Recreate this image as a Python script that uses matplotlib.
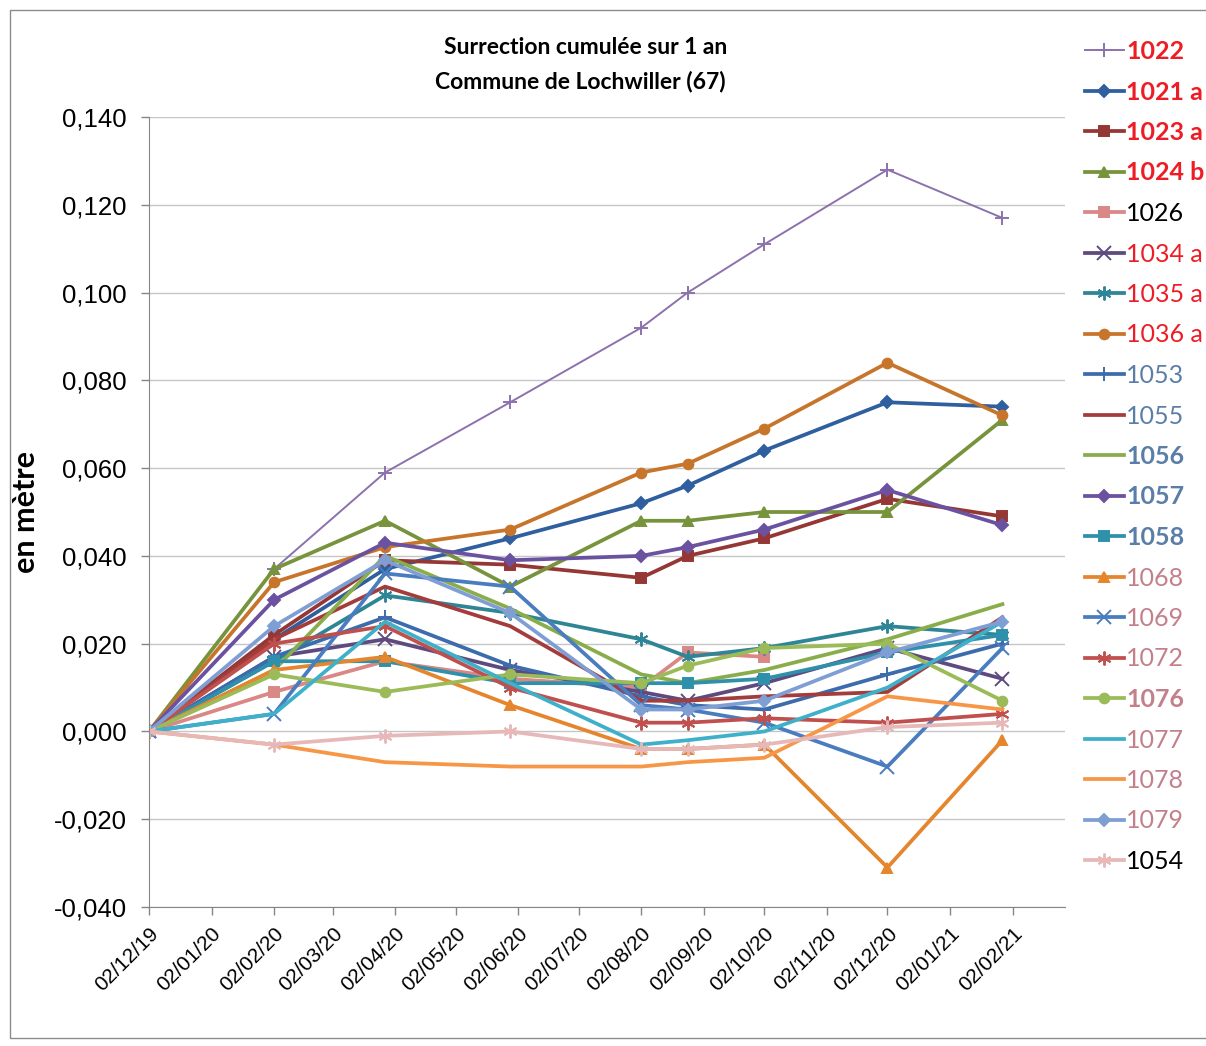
import numpy as np
import matplotlib
matplotlib.use("Agg")
import matplotlib.pyplot as plt
import matplotlib.dates as mdates
from matplotlib.patches import Rectangle
import datetime as dt

# survey dates
dates = [dt.date(2019, 12, 2), dt.date(2020, 2, 2), dt.date(2020, 3, 28),
         dt.date(2020, 5, 29), dt.date(2020, 8, 2), dt.date(2020, 8, 25),
         dt.date(2020, 10, 2), dt.date(2020, 12, 2), dt.date(2021, 1, 28)]

nan = np.nan
# cumulative uplift per benchmark (m)
s1022 = [0, 0.037, 0.059, 0.075, 0.092, 0.100, 0.111, 0.128, 0.117]
s1021a = [0, 0.021, 0.037, 0.044, 0.052, 0.056, 0.064, 0.075, 0.074]
s1023a = [0, 0.022, 0.039, 0.038, 0.035, 0.040, 0.044, 0.053, 0.049]
s1024b = [0, 0.037, 0.048, 0.033, 0.048, 0.048, 0.050, 0.050, 0.071]
s1026 = [0, 0.009, 0.016, 0.012, 0.010, 0.018, 0.017, nan, nan]
s1034a = [0, 0.017, 0.021, 0.014, 0.009, 0.007, 0.011, 0.019, 0.012]
s1035a = [0, 0.016, 0.031, 0.027, 0.021, 0.017, 0.019, 0.024, 0.022]
s1036a = [0, 0.034, 0.042, 0.046, 0.059, 0.061, 0.069, 0.084, 0.072]
s1053 = [0, 0.017, 0.026, 0.015, 0.008, 0.006, 0.005, 0.013, 0.020]
s1055 = [0, 0.021, 0.033, 0.024, 0.007, 0.007, 0.008, 0.009, 0.026]
s1056 = [0, 0.014, 0.040, 0.028, 0.013, 0.011, 0.014, 0.021, 0.029]
s1057 = [0, 0.030, 0.043, 0.039, 0.040, 0.042, 0.046, 0.055, 0.047]
s1058 = [0, 0.016, 0.016, 0.011, 0.011, 0.011, 0.012, 0.018, 0.022]
s1068 = [0, 0.014, 0.017, 0.006, -0.004, -0.004, -0.003, -0.031, -0.002]
s1069 = [0, 0.004, 0.036, 0.033, 0.006, 0.005, 0.002, -0.008, 0.019]
s1072 = [0, 0.020, 0.024, 0.010, 0.002, 0.002, 0.003, 0.002, 0.004]
s1076 = [0, 0.013, 0.009, 0.013, 0.011, 0.015, 0.019, 0.020, 0.007]
s1077 = [0, 0.004, 0.025, 0.011, -0.003, -0.002, 0.000, 0.010, 0.025]
s1078 = [0, -0.003, -0.007, -0.008, -0.008, -0.007, -0.006, 0.008, 0.005]
s1079 = [0, 0.024, 0.039, 0.027, 0.005, 0.005, 0.007, 0.018, 0.025]
s1054 = [0, -0.003, -0.001, 0.000, -0.004, -0.004, -0.003, 0.001, 0.002]

RED = "#ee1c25"
STEEL = "#5a7ea8"
ROSE = "#c4808a"
# label, values, line colour, marker, line width, label colour, bold
series = [
    ("1022", s1022, "#8c72ad", "+", 1.4, RED, True),
    ("1021 a", s1021a, "#2f5f9e", "D", 2.7, RED, True),
    ("1023 a", s1023a, "#953735", "s", 2.7, RED, True),
    ("1024 b", s1024b, "#77933c", "^", 2.7, RED, True),
    ("1026", s1026, "#d98886", "s", 2.7, "black", False),
    ("1034 a", s1034a, "#5f4a80", "x", 2.7, RED, False),
    ("1035 a", s1035a, "#2e8595", (6, 2, 0), 2.7, RED, False),
    ("1036 a", s1036a, "#c8752c", "o", 2.7, RED, False),
    ("1053", s1053, "#3d6cad", "+", 2.7, STEEL, False),
    ("1055", s1055, "#a33c3a", None, 2.7, STEEL, False),
    ("1056", s1056, "#8aad4c", None, 2.7, STEEL, True),
    ("1057", s1057, "#6b52a0", "D", 2.7, STEEL, True),
    ("1058", s1058, "#2f90ab", "s", 2.7, STEEL, True),
    ("1068", s1068, "#e5862e", "^", 2.7, ROSE, False),
    ("1069", s1069, "#4a7cc0", "x", 2.7, ROSE, False),
    ("1072", s1072, "#c0504d", (6, 2, 0), 2.7, ROSE, False),
    ("1076", s1076, "#9bbb59", "o", 2.7, ROSE, True),
    ("1077", s1077, "#3fb0c9", None, 2.7, ROSE, False),
    ("1078", s1078, "#f79646", None, 2.7, ROSE, False),
    ("1079", s1079, "#7f9fd4", "D", 2.7, ROSE, False),
    ("1054", s1054, "#e6b9b8", (6, 2, 0), 2.7, "black", False),
]

fig = plt.figure(figsize=(12.06, 10.46), dpi=100)
ax = fig.add_axes([149 / 1206, 1 - 907 / 1046, (1065 - 149) / 1206, (907 - 117) / 1046])

# outer chart frame
fig.patches.append(Rectangle((10 / 1206, 8 / 1046), 1.0, 1 - 18 / 1046,
                             transform=fig.transFigure, fill=False,
                             edgecolor="#8c8c8c", lw=1))

handles = []
for lab, vals, col, mk, lw, tcol, bold in series:
    ms = 7 if mk in ("s", "o", "^") else 10
    if mk == "D":
        ms = 6
    h, = ax.plot(dates, vals, color=col, lw=lw, marker=mk, ms=ms,
                 mec=col, mfc=col, mew=1.4, label=lab)
    handles.append(h)

yt = np.arange(-0.040, 0.1401, 0.020)
ax.set_ylim(-0.040, 0.140)
ax.set_yticks(yt)
ax.set_yticklabels([f"{v:.3f}".replace(".", ",") for v in yt],
                   fontsize=18.5, family="Liberation Sans")
ax.set_xlim(mdates.date2num(dt.date(2019, 12, 2)), mdates.date2num(dt.date(2021, 2, 28)))
ax.xaxis.set_major_locator(mdates.MonthLocator(bymonthday=2))
ax.xaxis.set_major_formatter(mdates.DateFormatter("%d/%m/%y"))
for t in ax.get_xticklabels():
    t.set_rotation(45)
    t.set_ha("right")
    t.set_rotation_mode("anchor")
    t.set_fontsize(15)
    t.set_family("Liberation Sans")

ax.grid(axis="y", color="#c6c6c6", lw=1)
ax.set_axisbelow(True)
for s in ("top", "right"):
    ax.spines[s].set_visible(False)
for s in ("left", "bottom"):
    ax.spines[s].set_color("#868686")
ax.tick_params(axis="both", color="#868686", length=6, width=1)
ax.tick_params(axis="y", pad=10)
ax.tick_params(axis="x", pad=6)

ax.set_ylabel("en mètre", fontsize=22, fontweight="bold", family="Lato", labelpad=10)

fig.text(586 / 1206, 1 - 48 / 1046, "Surrection cumulée sur 1 an", ha="center", va="center",
         fontsize=16.5, fontweight="bold", family="Lato")
fig.text(580 / 1206, 1 - 82 / 1046, "Commune de Lochwiller (67)", ha="center", va="center",
         fontsize=16.5, fontweight="bold", family="Lato")

leg = fig.legend(handles=handles, loc="upper left", bbox_to_anchor=(1085 / 1206, 1 - 40 / 1046),
                 frameon=False, prop={"family": "Lato", "size": 18}, handlelength=1.55,
                 handletextpad=0.1, labelspacing=0.7, borderaxespad=0, borderpad=0)
for txt, (lab, vals, col, mk, lw, tcol, bold) in zip(leg.get_texts(), series):
    txt.set_color(tcol)
    if bold:
        txt.set_fontweight("bold")

fig.savefig("out.png", dpi=100)
